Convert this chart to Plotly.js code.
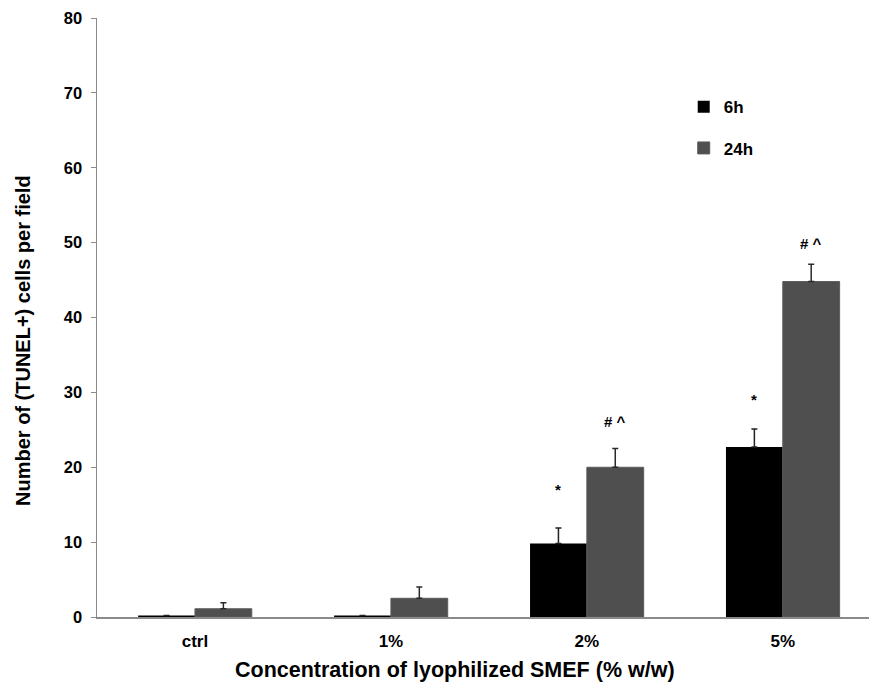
<!DOCTYPE html>
<html>
<head>
<meta charset="utf-8">
<script src="https://cdn.plot.ly/plotly-3.0.1.min.js"></script>
<style>
  html, body { margin: 0; padding: 0; background: #fff; }
  #chart { width: 869px; height: 685px; }
</style>
</head>
<body>
<div id="chart"></div>
<script>
// TUNEL+ cells per field by SMEF concentration, at 6 h and 24 h
const categories = ['ctrl', '1%', '2%', '5%'];
const values6h = [0.2, 0.2, 9.8, 22.7];
const errors6h = [0, 0, 2.1, 2.4];
const values24h = [1.1, 2.5, 20.0, 44.8];
const errors24h = [0.8, 1.5, 2.5, 2.3];

// significance marks placed above the bars
const marks6h = ['', '', '*', '*'];
const marks6hY = [null, null, 17.0, 29.0];
const marks24h = ['', '', '# ^', '# ^'];
const marks24hY = [null, null, 26.1, 49.9];

const xTitle = 'Concentration of lyophilized SMEF (% w/w)';
const yTitle = 'Number of (TUNEL+) cells per field';

const FONT = 'Liberation Sans, Arial, sans-serif';
const zeros = categories.map(() => 0);

const traces = [
  {
    type: 'bar', name: '6h', x: categories, y: values6h,
    marker: { color: '#000000' },
    error_y: { type: 'data', symmetric: false, array: errors6h, arrayminus: zeros,
               visible: true, color: '#222', thickness: 1.5, width: 3 },
    legendgroup: 'a', hoverinfo: 'skip'
  },
  {
    type: 'bar', name: '24h', x: categories, y: values24h,
    marker: { color: '#4f4f4f', line: { color: '#5c5c5c', width: 1 } },
    error_y: { type: 'data', symmetric: false, array: errors24h, arrayminus: zeros,
               visible: true, color: '#2a2a2a', thickness: 1.5, width: 3 },
    legendgroup: 'b', hoverinfo: 'skip'
  }
];

const annotations = [];
categories.forEach((c, i) => {
  if (marks6h[i]) annotations.push({
    x: i, y: marks6hY[i], xref: 'x', yref: 'y', xshift: -28.5,
    text: '<b>' + marks6h[i] + '</b>', showarrow: false,
    font: { family: FONT, size: 15, color: '#000' }
  });
  if (marks24h[i]) annotations.push({
    x: i, y: marks24hY[i], xref: 'x', yref: 'y', xshift: 28.5,
    text: '<b>' + marks24h[i] + '</b>', showarrow: false,
    font: { family: FONT, size: 15, color: '#000' }
  });
});

// axis titles, set as free text so they sit where the figure places them
annotations.push({
  text: '<b>' + xTitle + '</b>', xref: 'paper', yref: 'paper',
  x: 0.4637, y: -0.0885, xanchor: 'center', yanchor: 'middle', showarrow: false,
  font: { family: FONT, size: 21.5, color: '#000' }
});
annotations.push({
  text: '<b>' + yTitle + '</b>', xref: 'paper', yref: 'paper', textangle: -90,
  x: -0.0959, y: 0.4624, xanchor: 'center', yanchor: 'middle', showarrow: false,
  font: { family: FONT, size: 20, color: '#000' }
});

const layout = {
  width: 869, height: 685,
  paper_bgcolor: '#fff', plot_bgcolor: '#fff',
  margin: { l: 97, r: 0, t: 18, b: 68 },
  barmode: 'group', bargap: 0.42, bargroupgap: 0,
  font: { family: FONT, color: '#000' },
  showlegend: true,
  legend: {
    x: 0.76, y: 0.881, xanchor: 'left', yanchor: 'top',
    tracegroupgap: 16, bgcolor: 'rgba(0,0,0,0)',
    font: { family: FONT, size: 17, color: '#000', weight: 'bold' },
    itemwidth: 30
  },
  xaxis: {
    type: 'category', range: [-0.5, 3.44],
    showline: true, linecolor: '#8a8a8a', linewidth: 1.5,
    ticks: '', showgrid: false, zeroline: false,
    ticklabelstandoff: 8,
    tickfont: { family: FONT, size: 17, color: '#000', weight: 'bold' }
  },
  yaxis: {
    range: [0, 80], dtick: 10,
    showline: true, linecolor: '#8a8a8a', linewidth: 1.5,
    ticks: 'outside', ticklen: 5, tickcolor: '#8a8a8a', tickwidth: 1,
    showgrid: false, zeroline: false,
    ticklabelstandoff: 5,
    tickfont: { family: FONT, size: 16.5, color: '#000', weight: 'bold' }
  },
  annotations: annotations
};

Plotly.newPlot('chart', traces, layout, { displayModeBar: false, staticPlot: true });
</script>
</body>
</html>
